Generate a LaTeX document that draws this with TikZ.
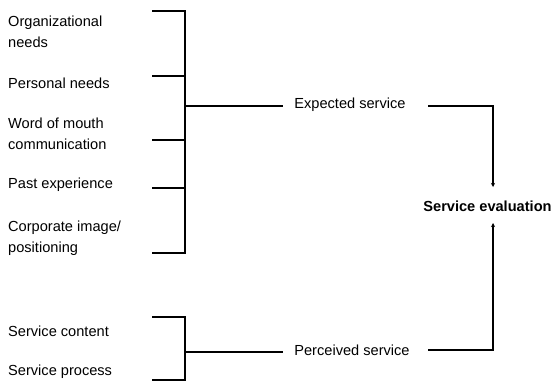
\documentclass[tikz,border=0pt]{standalone}
\usepackage{fontspec}
\setmainfont{Liberation Sans}
\usetikzlibrary{arrows.meta}
\begin{document}
\begin{tikzpicture}[x=1pt,y=-1pt,
  lbl/.style={anchor=west,align=left,inner sep=0pt,font=\fontsize{14.6}{21.5}\selectfont},
  mid/.style={anchor=center,inner sep=0pt,font=\fontsize{14.6}{21.5}\selectfont},
  ln/.style={line width=1.3pt,black},
  arr/.style={line width=1.3pt,-{Stealth[length=4pt,width=4pt]}}]
\useasboundingbox (0,0) rectangle (553,381);
% left labels
\node[lbl] (org) at (8,32) {Organizational\\needs};
\node[lbl] (pers) at (8,83) {Personal needs};
\node[lbl] (word) at (8,134) {Word of mouth\\communication};
\node[lbl] (past) at (8,185) {Past experience};
\node[lbl] (corp) at (8,238) {Corporate image/\\positioning};
\node[lbl] (cont) at (8,331) {Service content};
\node[lbl] (proc) at (8,372) {Service process};
% middle and right
\node[mid] (exp) at (350,105) {Expected service};
\node[mid] (perc) at (352,350) {Perceived service};
\node[mid,font=\fontsize{14.6}{21.5}\selectfont\bfseries] (eval) at (487.5,206) {Service evaluation};
% bracket coordinates
\coordinate (t1) at (152,11);
\coordinate (t2) at (152,76);
\coordinate (t3) at (152,140);
\coordinate (t4) at (152,188);
\coordinate (t5) at (152,253);
\coordinate (b1) at (152,317);
\coordinate (b2) at (152,380);
\coordinate (v1) at (185,11);
\coordinate (v5) at (185,253);
\coordinate (vb1) at (185,317);
\coordinate (vb2) at (185,380);
\coordinate (j1) at (185,106);
\coordinate (j2) at (185,352);
\coordinate (e1) at (283,106);
\coordinate (e2) at (283,352);
\coordinate (r1) at (428,106);
\coordinate (r2) at (428,350);
\coordinate (c1) at (493,106);
\coordinate (c2) at (493,350);
\coordinate (a1) at (493,187);
\coordinate (a2) at (493,223);
% top bracket
\draw[ln] (t1) -- (v1) -- (v5) -- (t5);
\draw[ln] (t2) -- (t2-|v1);
\draw[ln] (t3) -- (t3-|v1);
\draw[ln] (t4) -- (t4-|v1);
\draw[ln] (j1) -- (e1);
% bottom bracket
\draw[ln] (b1) -- (vb1) -- (vb2) -- (b2);
\draw[ln] (j2) -- (e2);
% to evaluation
\draw[ln,arr] (r1) -- (c1) -- (a1);
\draw[ln,arr] (r2) -- (c2) -- (a2);
\end{tikzpicture}
\end{document}
